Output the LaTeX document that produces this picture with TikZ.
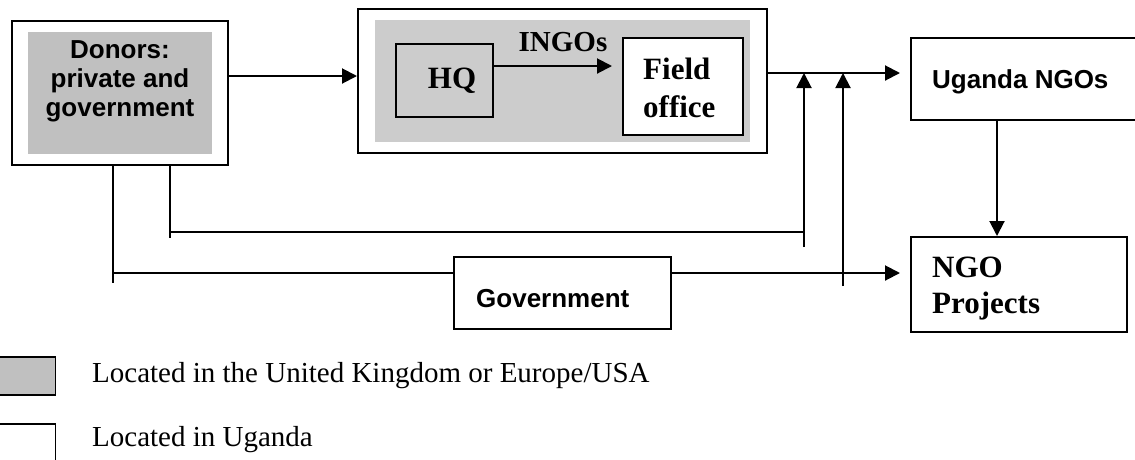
\documentclass[tikz,border=0pt]{standalone}
\usepackage{fontspec}
\setmainfont{Liberation Serif}
\setsansfont{Liberation Sans}
\usetikzlibrary{arrows.meta,calc}
\definecolor{ukgray}{HTML}{C0C0C0}
\definecolor{ingogray}{HTML}{CCCCCC}
\begin{document}
\begin{tikzpicture}[x=1pt,y=-1pt,
  box/.style={draw=black,line width=2pt,inner sep=0pt,fill=white},
  thinbox/.style={draw=black,line width=1.5pt,inner sep=0pt},
  grayfill/.style={fill=#1,draw=none,inner sep=0pt},
  ln/.style={line width=2pt},
  arr/.style={line width=2pt,-{Triangle[length=15pt,width=15pt]}},
  sanslbl/.style={font=\sffamily\bfseries\fontsize{26}{29}\selectfont,inner sep=0pt},
  seriflbl/.style={font=\rmfamily\bfseries\fontsize{31}{38}\selectfont,inner sep=0pt},
  legendlbl/.style={font=\rmfamily\fontsize{29}{34}\selectfont,inner sep=0pt,anchor=base west},
]
\useasboundingbox (0,0) rectangle (1135,459);

% Donors
\node[box,minimum width=216pt,minimum height=144pt] (donors) at (120,93) {};
\node[grayfill=ukgray,minimum width=184pt,minimum height=122pt] (donorsin) at (120,93) {};
\node[sanslbl,align=center] (donorstxt) at (120,81) {Donors:\\private and\\government};

% INGOs
\node[box,minimum width=409pt,minimum height=144pt] (ingo) at (562.5,81) {};
\node[grayfill=ingogray,minimum width=375pt,minimum height=122pt] (ingoin) at (562.5,81) {};
\node[thinbox,minimum width=97pt,minimum height=73pt] (hq) at (444.5,80.5) {};
\node[seriflbl,anchor=base] (hqtxt) at (452,88) {HQ};
\node[seriflbl,font=\rmfamily\bfseries\fontsize{29}{34}\selectfont,anchor=base] (ingotxt) at (563,51) {INGOs};
\node[box,line width=1.5pt,minimum width=120pt,minimum height=97pt] (field) at (683,86.5) {};
\node[seriflbl,anchor=base west] (fieldtxt1) at (643,79) {Field};
\node[seriflbl,anchor=base west] (fieldtxt2) at (643,117) {office};

% Uganda NGOs
\node[box,minimum width=229pt,minimum height=82pt] (uganda) at (1025.5,79) {};
\node[sanslbl,anchor=base west] (ugandatxt) at (932,88) {Uganda NGOs};

% NGO Projects
\node[box,minimum width=216pt,minimum height=95pt] (proj) at (1019,284.5) {};
\node[seriflbl,anchor=base west] (projtxt1) at (932,277) {NGO};
\node[seriflbl,anchor=base west] (projtxt2) at (932,313) {Projects};

% Government
\node[box,minimum width=217pt,minimum height=72pt] (gov) at (562.5,293) {};
\node[sanslbl,anchor=base west] (govtxt) at (476,307) {Government};

% coordinates for connectors
\coordinate (hqtip) at (612,66);
\coordinate (ugtip) at (900,73);
\coordinate (projtip) at (900,273);
\coordinate (vA) at (804,247);
\coordinate (vAtop) at (804,73);
\coordinate (vB) at (843,286);
\coordinate (vBtop) at (843,73);
\coordinate (dA) at (170,238);
\coordinate (hA) at (170,232);
\coordinate (hAend) at (804,232);
\coordinate (dB) at (113,283);
\coordinate (hB) at (113,273);

% connectors
\draw[arr] (donors.east |- 0,76) -- (ingo.west |- 0,76);
\draw[arr] (hq.east |- hqtip) -- (hqtip);
\draw[arr] (ingo.east |- ugtip) -- (ugtip);
\draw[arr] (vA) -- (vAtop);
\draw[arr] (vB) -- (vBtop);
\draw[ln] (donors.south -| dA) -- (dA);
\draw[ln] (hA) -- (hAend);
\draw[ln] (donors.south -| dB) -- (dB);
\draw[ln] (hB) -- (gov.west |- hB);
\draw[arr] (gov.east |- projtip) -- (projtip);
\draw[arr] (uganda.south -| 997,0) -- (proj.north -| 997,0);

% legend
\node[draw=black,line width=1.5pt,fill=ukgray,minimum width=59pt,minimum height=38pt,inner sep=0pt] (leguk) at (26,376) {};
\node[legendlbl] (leguktxt) at (92,382) {Located in the United Kingdom or Europe/USA};
\node[draw=black,line width=1.5pt,minimum width=59pt,minimum height=46pt,inner sep=0pt] (legug) at (26,447) {};
\node[legendlbl] (legugtxt) at (92,446) {Located in Uganda};
\end{tikzpicture}
\end{document}
